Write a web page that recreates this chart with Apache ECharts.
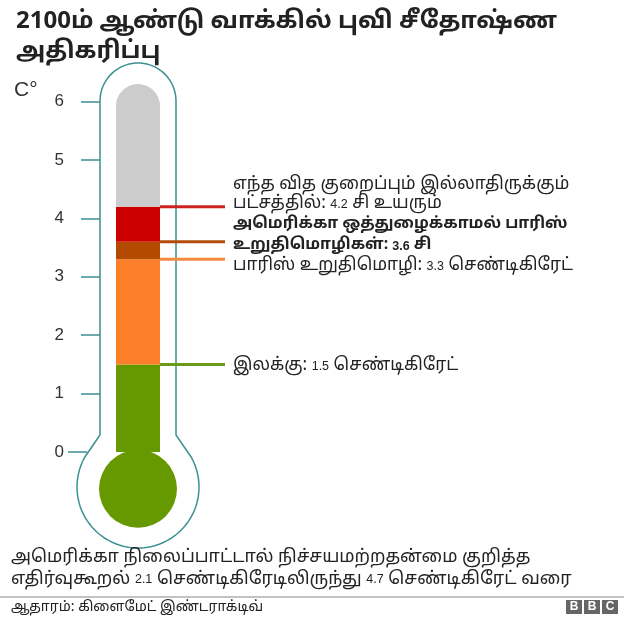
<!DOCTYPE html>
<html><head><meta charset="utf-8">
<script src="https://cdn.jsdelivr.net/npm/echarts@6/dist/echarts.min.js"></script>
<style>html,body{margin:0;padding:0;background:#fff}#c{width:624px;height:621px}</style>
</head><body><div id="c"></div>
<script>
// ---- data ----
const tickValues = [0, 1, 2, 3, 4, 5, 6];
const levels = [1.5, 3.3, 3.6, 4.2, 6.3];          // target, Paris, Paris w/o US, no action, tube top
const bulbValue = [-0.63];
const uncertaintyRange = [2.1, 4.7];
const titleText = '2100ம் ஆண்டு வாக்கில் புவி சீதோஷ்ண\nஅதிகரிப்பு';
const sourceText = 'ஆதாரம்: கிளைமேட் இண்டராக்டிவ்';

// ---- styles ----
const segColors = ['#669900', '#fe7f2a', '#b24a00', '#cc0000', '#cccccc'];
const lineColors = ['#6b9a1a', '#f4883f', '#b04d0d', '#cc2222'];
const teal = '#3b9093';
const FONT = "'Noto Sans Tamil','Lohit Tamil','Liberation Sans',Arial,sans-serif";
const LATIN = "'Liberation Sans',Arial,sans-serif";

const segs = levels.map((v, i) => +(v - (i ? levels[i - 1] : 0)).toFixed(2));

const chart = echarts.init(document.getElementById('c'), null, {renderer: 'canvas'});
const series = segs.map((s, i) => ({
  type: 'bar', stack: 't', barWidth: 44, clip: false, silent: true,
  data: [s],
  itemStyle: {color: segColors[i], borderRadius: i === segs.length - 1 ? [22, 22, 0, 0] : 0}
}));
series.push({
  type: 'scatter', clip: false, silent: true, symbolSize: 78,
  data: [[0, bulbValue[0]]], itemStyle: {color: segColors[0], opacity: 1}
});

const yBase = {
  type: 'value', min: 0, max: 6, interval: 1, position: 'left',
  splitLine: {show: false}, axisLine: {show: false}
};
chart.setOption({
  animation: false,
  title: {
    text: titleText, left: 11, top: 3,
    textStyle: {fontFamily: FONT, fontSize: 24, fontWeight: 'bold', color: '#222', lineHeight: 30}
  },
  grid: {left: 100, width: 76, top: 101.5, height: 350.5},
  xAxis: {type: 'category', data: ['t'], show: false},
  yAxis: [
    Object.assign({}, yBase, {
      axisTick: {show: true, length: 19, customValues: tickValues.slice(1), lineStyle: {color: teal, width: 1.5}},
      axisLabel: {margin: 36, fontSize: 17, color: '#333', fontFamily: LATIN, customValues: tickValues}
    }),
    Object.assign({}, yBase, {
      offset: 13,
      axisTick: {show: true, length: 19, customValues: [tickValues[0]], lineStyle: {color: teal, width: 1.5}},
      axisLabel: {show: false}
    })
  ],
  series: series
});

const yp = v => chart.convertToPixel({yAxisIndex: 0}, v);
const numRich = (w) => ({n: {fontSize: 12.5, fontFamily: LATIN, fontWeight: w || 'normal', color: '#222'}});
const txt = (x, y, text, opt) => ({
  type: 'text', x: x, y: y, z: 10,
  style: Object.assign({text: text, fontFamily: FONT, fontSize: 17.3, fill: '#222', lineHeight: 19,
    textVerticalAlign: 'middle', rich: numRich(opt && opt.fontWeight)}, opt || {})
});
const hl = (v, color) => ({
  type: 'line', z: 9, shape: {x1: 160, y1: yp(v), x2: 225, y2: yp(v)},
  style: {stroke: color, lineWidth: 3}
});

// thermometer glass outline (decorative)
const pts = [];
const arc = (cx, cy, r, a0, a1, n) => {
  for (let k = 0; k <= n; k++) {
    const a = a0 + (a1 - a0) * k / n;
    pts.push([cx + r * Math.cos(a), cy + r * Math.sin(a)]);
  }
};
pts.push([100, 435]);
arc(138, 101, 38, Math.PI, 2 * Math.PI, 40);
pts.push([176, 435]);
const aj = Math.asin(30 / 61);
arc(138, 487, 61, -aj, Math.PI + aj, 80);
pts.push([100, 435]);

const g = [
  {type: 'polyline', z: 1, shape: {points: pts}, style: {fill: null, stroke: teal, lineWidth: 1.5}},
  {type: 'text', x: 14, y: 90, style: {text: 'C°', fontFamily: LATIN, fontSize: 21, fill: '#333', textVerticalAlign: 'middle'}},
  hl(levels[0], lineColors[0]), hl(levels[1], lineColors[1]), hl(levels[2], lineColors[2]), hl(levels[3], lineColors[3]),
  txt(233, yp(levels[3]) - 12, 'எந்த வித குறைப்பும் இல்லாதிருக்கும்\nபட்சத்தில்: {n|' + levels[3] + '} சி உயரும்'),
  txt(233, yp(levels[2]) - 6, 'அமெரிக்கா ஒத்துழைக்காமல் பாரிஸ்\nஉறுதிமொழிகள்: {n|' + levels[2] + '} சி', {fontWeight: 'bold', fontSize: 15.8, lineHeight: 21}),
  txt(233, yp(levels[1]) + 7, 'பாரிஸ் உறுதிமொழி: {n|' + levels[1] + '} செண்டிகிரேட்'),
  txt(233, yp(levels[0]) + 2, 'இலக்கு: {n|' + levels[0] + '} செண்டிகிரேட்'),
  txt(11, 569, 'அமெரிக்கா நிலைப்பாட்டால் நிச்சயமற்றதன்மை குறித்த\nஎதிர்வுகூறல் {n|' + uncertaintyRange[0] + '} செண்டிகிரேடிலிருந்து {n|' + uncertaintyRange[1] + '} செண்டிகிரேட் வரை', {fontSize: 17.8, lineHeight: 22}),
  {type: 'line', shape: {x1: 0, y1: 597, x2: 624, y2: 597}, style: {stroke: '#888', lineWidth: 1.2}},
  txt(11, 608, sourceText, {fontSize: 14})
];
['B', 'B', 'C'].forEach((ch, i) => {
  g.push({type: 'rect', shape: {x: 566 + i * 18, y: 600, width: 16, height: 14}, style: {fill: '#666'}});
  g.push({type: 'text', x: 574 + i * 18, y: 607, style: {text: ch, fill: '#fff', fontSize: 12, fontWeight: 'bold',
    fontFamily: LATIN, textAlign: 'center', textVerticalAlign: 'middle'}});
});
chart.setOption({graphic: g});
</script>
</body></html>
